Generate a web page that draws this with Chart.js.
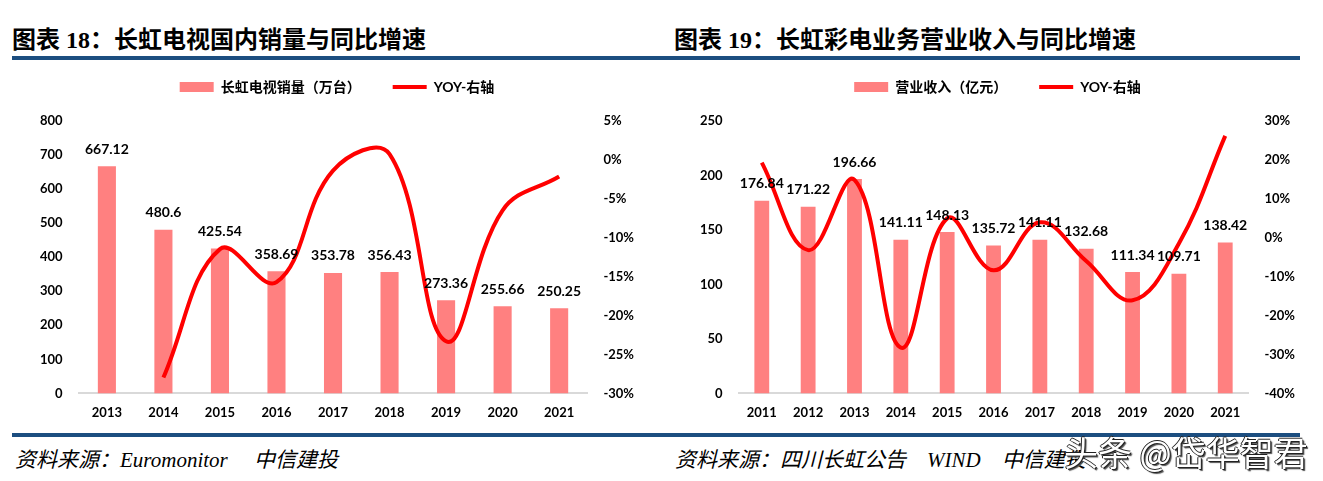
<!DOCTYPE html>
<html>
<head>
<meta charset="utf-8">
<script src="https://cdn.jsdelivr.net/npm/chart.js@4.4.1/dist/chart.umd.min.js"></script>
<style>
body { margin:0; background:#fff; width:1323px; height:481px; position:relative; overflow:hidden; }
.title { position:absolute; top:20px; font:bold 24px "Liberation Serif","Noto Sans CJK SC"; color:#000; white-space:nowrap; }
.rule { position:absolute; left:12px; width:1288px; height:4px; background:#1C4E80; }
.src { position:absolute; top:443px; font:italic 21px "Liberation Serif","Noto Sans CJK SC"; color:#000; white-space:nowrap; }
.wm { position:absolute; left:1064px; top:427px; font:34px "Noto Sans CJK SC"; color:#fff; white-space:nowrap;
      text-shadow: 1px 1px 0 #222, -1px 0 0 #222, 0 -1px 0 #222, 2px 2px 1px #555; }
canvas { position:absolute; }
</style>
</head>
<body>
<div class="title" style="left:12px">图表 18：长虹电视国内销量与同比增速</div>
<div class="title" style="left:674px">图表 19：长虹彩电业务营业收入与同比增速</div>
<div class="rule" style="top:56px"></div>
<div class="rule" style="top:433px"></div>
<canvas id="c1" width="660" height="385" style="left:0;top:48px"></canvas>
<canvas id="c2" width="663" height="385" style="left:660px;top:48px"></canvas>
<div class="src" style="left:15px">资料来源：Euromonitor　 中信建投</div>
<div class="src" style="left:675px">资料来源：四川长虹公告　WIND　中信建投</div>
<div class="wm">头条 @岱华智君</div>
<script>
// 图表18 长虹电视国内销量
var years1 = ['2013', '2014', '2015', '2016', '2017', '2018', '2019', '2020', '2021'];
var sales = [667.12, 480.6, 425.54, 358.69, 353.78, 356.43, 273.36, 255.66, 250.25];
var salesYoy = [null, -27.96, -11.46, -15.71, -1.37, 0.75, -23.31, -6.47, -2.12];

// 图表19 长虹彩电业务营业收入
var years2 = ['2011', '2012', '2013', '2014', '2015', '2016', '2017', '2018', '2019', '2020', '2021'];
var revenue = [176.84, 171.22, 196.66, 141.11, 148.13, 135.72, 141.11, 132.68, 111.34, 109.71, 138.42];
var revenueYoy = [19.3, -3.18, 14.86, -28.25, 4.97, -8.38, 3.97, -5.97, -16.08, -1.46, 26.17];

var tickFont = { family: 'Lato', size: 13, weight: 'bold' };

var barLabels = {
    id: 'barLabels',
    afterDatasetsDraw: function(chart) {
        var ctx = chart.ctx;
        var meta = chart.getDatasetMeta(0);
        var vals = chart.data.datasets[0].data;
        ctx.save();
        ctx.font = 'bold 14px Lato';
        ctx.fillStyle = '#000';
        ctx.textAlign = 'center';
        ctx.textBaseline = 'middle';
        meta.data.forEach(function(bar, i) {
            ctx.fillText(vals[i], bar.x, bar.y - 17);
        });
        ctx.restore();
    }
};

// a bit more room under the legend
var legendGap = {
    id: 'legendGap',
    beforeInit: function(chart) {
        var fit = chart.legend.fit;
        chart.legend.fit = function() {
            fit.bind(chart.legend)();
            this.height += 17;
        };
    }
};

function makeChart(id, labels, bars, yoy, barName, leftMax, leftStep, rMin, rMax, rStep, padL, padR) {
    return new Chart(document.getElementById(id), {
        type: 'bar',
        data: {
            labels: labels,
            datasets: [{
                type: 'bar',
                label: barName,
                data: bars,
                backgroundColor: '#FF8080',
                pointStyle: 'rect',
                yAxisID: 'y',
                order: 1,
                barPercentage: 0.32,
                categoryPercentage: 1
            }, {
                type: 'line',
                label: 'YOY-右轴',
                data: yoy,
                borderColor: '#FF0000',
                backgroundColor: '#FF0000',
                borderWidth: 4,
                pointRadius: 0,
                pointStyle: 'line',
                tension: 0.4,
                fill: false,
                yAxisID: 'y1',
                order: 0
            }]
        },
        options: {
            responsive: false,
            animation: false,
            layout: { padding: { left: padL, right: padR, top: 0, bottom: 0 } },
            plugins: {
                legend: {
                    labels: {
                        usePointStyle: true,
                        pointStyleWidth: 34,
                        boxHeight: 10,
                        padding: 32,
                        color: '#000',
                        font: { family: 'Lato, "Noto Sans CJK SC"', size: 14, weight: 'bold' },
                        sort: function(a, b) { return a.datasetIndex - b.datasetIndex; }
                    }
                },
                tooltip: { enabled: false }
            },
            scales: {
                x: {
                    grid: { display: false, drawTicks: false },
                    border: { display: true, color: '#D9D9D9', width: 2 },
                    ticks: { color: '#000', font: tickFont, padding: 12 }
                },
                y: {
                    position: 'left',
                    min: 0, max: leftMax,
                    grid: { display: false, drawTicks: false },
                    border: { display: false },
                    ticks: { stepSize: leftStep, color: '#000', font: tickFont, padding: 16 }
                },
                y1: {
                    position: 'right',
                    min: rMin, max: rMax,
                    grid: { display: false, drawTicks: false },
                    border: { display: false },
                    ticks: {
                        stepSize: rStep, color: '#000', font: tickFont, padding: 16,
                        callback: function(v) { return v + '%'; }
                    }
                }
            }
        },
        plugins: [barLabels, legendGap]
    });
}

makeChart('c1', years1, sales, salesYoy, '长虹电视销量（万台）', 800, 100, -30, 5, 5, 24, 10);
makeChart('c2', years2, revenue, revenueYoy, '营业收入（亿元）', 250, 50, -40, 30, 10, 24, 12);
</script>
</body>
</html>
